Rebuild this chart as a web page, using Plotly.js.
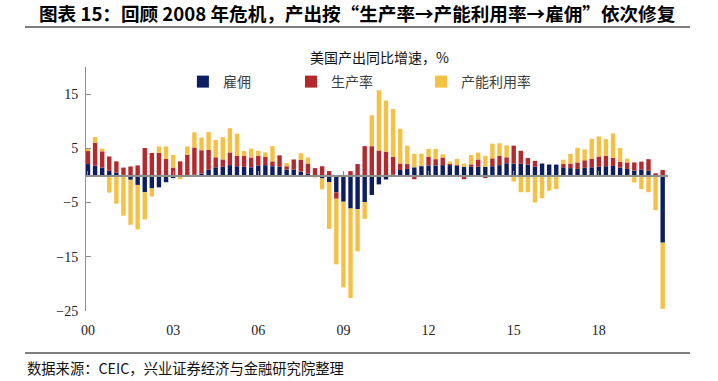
<!DOCTYPE html>
<html><head><meta charset="utf-8">
<script src="https://cdn.plot.ly/plotly-3.0.1.min.js"></script>
<style>html,body{margin:0;padding:0;background:#fff}#chart{width:718px;height:381px}</style>
</head><body><div id="chart"></div>
<script>
const quarters = [
'2000Q1','2000Q2','2000Q3','2000Q4','2001Q1','2001Q2','2001Q3','2001Q4','2002Q1','2002Q2','2002Q3','2002Q4',
'2003Q1','2003Q2','2003Q3','2003Q4','2004Q1','2004Q2','2004Q3','2004Q4','2005Q1','2005Q2','2005Q3','2005Q4',
'2006Q1','2006Q2','2006Q3','2006Q4','2007Q1','2007Q2','2007Q3','2007Q4','2008Q1','2008Q2','2008Q3','2008Q4',
'2009Q1','2009Q2','2009Q3','2009Q4','2010Q1','2010Q2','2010Q3','2010Q4','2011Q1','2011Q2','2011Q3','2011Q4',
'2012Q1','2012Q2','2012Q3','2012Q4','2013Q1','2013Q2','2013Q3','2013Q4','2014Q1','2014Q2','2014Q3','2014Q4',
'2015Q1','2015Q2','2015Q3','2015Q4','2016Q1','2016Q2','2016Q3','2016Q4','2017Q1','2017Q2','2017Q3','2017Q4',
'2018Q1','2018Q2','2018Q3','2018Q4','2019Q1','2019Q2','2019Q3','2019Q4','2020Q1','2020Q2'];

const employment = [2.1,1.8,1.45,0.85,0.55,0.1,-0.8,-1.75,-3.1,-2.4,
 -2.2,-1.25,-0.5,0,0,0.15,0.35,1.1,1.5,1.6,
 1.9,1.7,1.6,1.5,1.85,1.9,1.7,1.6,1.1,1.1,
 0.7,0.35,0,-0.55,-1.25,-3.1,-4.85,-6.1,-6.2,-4.9,
 -3.6,-1.65,-0.75,0.15,1.0,1.2,1.5,1.7,1.85,1.8,
 1.9,1.9,1.8,1.6,1.6,1.6,1.6,1.7,1.9,2.25,
 2.2,2.15,2.0,1.6,2.2,2.0,2.0,1.5,1.35,1.2,
 1.4,1.5,1.6,1.7,1.75,1.45,1.2,0.9,1.1,0.85,
 0.05,-12.4];

const productivity = [2.4,4.2,3.0,2.65,2.05,1.35,1.65,1.85,5.05,4.15,
 4.15,3.05,1.45,2.6,3.8,5.0,4.3,3.6,1.85,1.35,
 2.35,1.9,2.0,1.8,1.8,1.55,0.9,2.1,0.6,1.85,
 2.15,1.85,1.35,1.7,0.8,-1.2,0.1,0.8,2.1,5.4,
 5.4,4.6,4.4,3.3,1.2,0.9,-0.7,0.1,1.55,1.2,
 1.4,0.25,0.2,-0.7,0.45,1.35,-0.5,1.45,1.7,1.1,
 3.3,2.4,1.2,1.1,0,0.05,0,0.6,0.85,1.2,
 1.4,1.6,1.9,1.95,1.5,1.1,1.2,1.5,1.45,2.15,
 0.35,1.0];

const capacity = [0.5,1.1,0.5,-3.15,-5.2,-7.4,-8.3,-8.2,-5.0,-1.5,
 1.2,2.3,2.35,-0.7,1.55,2.8,2.35,3.3,3.2,4.1,
 4.45,4.1,0.9,1.65,0.9,0.8,2.8,-0.3,0.6,-0.3,
 1.25,1.1,-0.4,-2.0,-8.6,-12.1,-15.8,-16.5,-7.8,-3.1,
 5.7,11.1,9.4,8.8,6.4,3.4,2.5,2.2,1.5,1.9,
 0.6,0.4,1.05,0.6,1.7,1.25,2.0,2.7,2.35,2.2,
 -1.1,-3.1,-3.1,-5.0,-4.2,-2.8,-2.5,0.8,1.75,2.7,
 2.0,3.65,3.7,3.05,4.5,2.5,0.7,-1.3,-2.5,-3.1,
 -6.4,-12.2];

const seriesNames = ['雇佣','生产率','产能利用率'];
const tickVals = ['2000Q1','2003Q1','2006Q1','2009Q1','2012Q1','2015Q1','2018Q1'];
const tickText = ['00','03','06','09','12','15','18'];
const yTicks = [-25,-15,-5,5,15];

const colors = ['#0c1d62','#b5282c','#f6c045'];
const cjk = '"Noto Sans CJK SC", "Noto Sans", sans-serif';
const serif = '"Liberation Serif", "DejaVu Serif", serif';

const traces = [employment, productivity, capacity].map((vals, i) => ({
  type: 'bar', x: quarters, y: vals, name: seriesNames[i],
  marker: {color: colors[i], line: {width: 0}},
  legend: i === 0 ? 'legend' : 'legend' + (i + 1),
  hoverinfo: 'x+y+name'
}));
traces.push({type: 'scatter', mode: 'markers', x: quarters, y: quarters.map(() => null),
  xaxis: 'x2', yaxis: 'y', showlegend: false, hoverinfo: 'skip'});

const xr = [-0.28, 81.75];
const legBase = {orientation: 'h', yanchor: 'middle', xanchor: 'left', y: 0.9385,
  bgcolor: 'rgba(0,0,0,0)', font: {family: cjk, size: 14, color: '#404040'}};

const layout = {
  width: 718, height: 381,
  margin: {l: 86, r: 50, t: 67, b: 70},
  paper_bgcolor: '#fff', plot_bgcolor: '#fff',
  barmode: 'relative', bargap: 0.38,
  showlegend: true,
  legend: Object.assign({}, legBase, {x: 0.1665}),
  legend2: Object.assign({}, legBase, {x: 0.3522}),
  legend3: Object.assign({}, legBase, {x: 0.5756}),
  xaxis: {type: 'category', categoryarray: quarters, range: xr, showline: false, ticks: '',
    showgrid: false, zeroline: false, tickvals: tickVals, ticktext: tickText,
    tickfont: {family: serif, size: 14, color: '#222'}, ticklabelstandoff: 9},
  xaxis2: {type: 'category', categoryarray: quarters, range: xr, overlaying: 'x', anchor: 'free',
    position: 25/45, side: 'bottom', showline: true, linecolor: '#8f8f8f', linewidth: 1.5,
    ticks: 'inside', ticklen: 4, tickwidth: 1, tickcolor: '#8f8f8f', tickvals: tickVals,
    showticklabels: false, showgrid: false, zeroline: false},
  yaxis: {range: [-25, 20], tickvals: yTicks, ticks: 'inside', ticklen: 5, tickcolor: '#8f8f8f',
    showline: true, linecolor: '#8f8f8f', linewidth: 1, showgrid: false, zeroline: false,
    tickfont: {family: serif, size: 14, color: '#222'}, ticklabelstandoff: 4},
  annotations: [
    {text: '图表 15：回顾 2008 年危机，产出按“生产率→产能利用率→雇佣”依次修复', xref: 'paper', yref: 'paper',
     x: -0.0842, y: 1.2254, xanchor: 'left', yanchor: 'middle', showarrow: false,
     font: {family: cjk, size: 18.6, color: '#000', weight: 'bold'}},
    {text: '美国产出同比增速，%', xref: 'paper', yref: 'paper', x: 0.505, y: 1.041,
     xanchor: 'center', yanchor: 'middle', showarrow: false,
     font: {family: cjk, size: 14, color: '#111'}},
    {text: '数据来源：CEIC，兴业证券经济与金融研究院整理', xref: 'paper', yref: 'paper',
     x: -0.1048, y: -0.2336, xanchor: 'left', yanchor: 'middle', showarrow: false,
     font: {family: cjk, size: 14.3, color: '#111'}}
  ],
  shapes: [
    {type: 'line', xref: 'paper', yref: 'paper', x0: -0.1048, x1: 1.0378, y0: 1.1639, y1: 1.1639,
     line: {color: '#555', width: 1.5}},
    {type: 'line', xref: 'paper', yref: 'paper', x0: -0.1048, x1: 1.0378, y0: -0.1721, y1: -0.1721,
     line: {color: '#555', width: 1.5}}
  ]
};

Plotly.newPlot('chart', traces, layout, {displayModeBar: false, staticPlot: true});
</script></body></html>
